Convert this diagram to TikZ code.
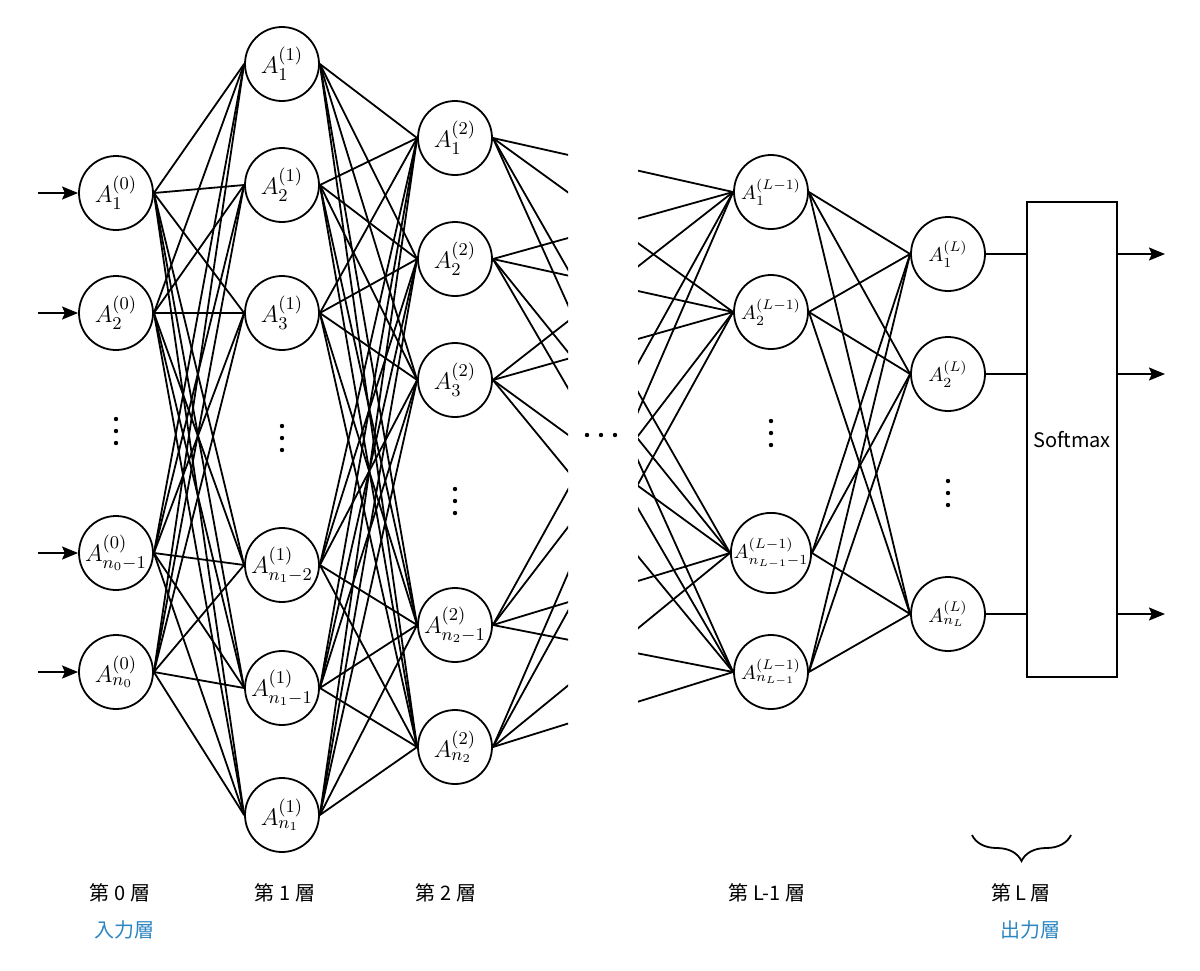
\documentclass[tikz,border=0pt]{standalone}
\usepackage{amsmath}
\usepackage{fontspec}
\newfontfamily\jpfont{Noto Sans CJK JP}
\usetikzlibrary{arrows.meta,decorations.pathreplacing}
\definecolor{layerblue}{RGB}{46,134,193}
\newcommand{\layervdots}[2]{\fill (#1,#2-12) circle (1.1pt) (#1,#2) circle (1.1pt) (#1,#2+12) circle (1.1pt);}

\begin{document}
\begin{tikzpicture}[x=0.5pt, y=-0.5pt, line width=0.9pt,
    neuron/.style={circle, draw, minimum size=37pt, inner sep=0pt, font=\fontsize{12.5}{14}\selectfont},
    smallneuron/.style={neuron, font=\fontsize{9.8}{11}\selectfont},
    layertext/.style={font=\jpfont\fontsize{10}{12}\selectfont},
    arrowtip/.style={-{Stealth[length=8pt, width=6.5pt, inset=1.4pt]}}]
   \useasboundingbox (0,0) rectangle (1200,970);

   % layer 0
   \node[neuron] (l0n1) at (116,193) {$A_1^{(0)}$};
   \node[neuron] (l0n2) at (116,313) {$A_2^{(0)}$};
   \node[neuron] (l0n3) at (116,553) {$A_{n_0-1}^{(0)}$};
   \node[neuron] (l0n4) at (116,672) {$A_{n_0}^{(0)}$};
   \layervdots{116}{431}

   % layer 1
   \node[neuron] (l1n1) at (282,64)  {$A_1^{(1)}$};
   \node[neuron] (l1n2) at (282,185) {$A_2^{(1)}$};
   \node[neuron] (l1n3) at (282,313) {$A_3^{(1)}$};
   \node[neuron] (l1n4) at (282,565) {$A_{n_1-2}^{(1)}$};
   \node[neuron] (l1n5) at (282,688) {$A_{n_1-1}^{(1)}$};
   \node[neuron] (l1n6) at (282,815) {$A_{n_1}^{(1)}$};
   \layervdots{282}{438}

   % layer 2
   \node[neuron] (l2n1) at (455,138) {$A_1^{(2)}$};
   \node[neuron] (l2n2) at (455,259) {$A_2^{(2)}$};
   \node[neuron] (l2n3) at (455,380) {$A_3^{(2)}$};
   \node[neuron] (l2n4) at (455,625) {$A_{n_2-1}^{(2)}$};
   \node[neuron] (l2n5) at (455,747) {$A_{n_2}^{(2)}$};
   \layervdots{455}{501}

   \fill (587,435) circle (1.1pt) (601,435) circle (1.1pt) (615,435) circle (1.1pt);

   % layer L-1
   \node[smallneuron] (lkn1) at (771,192) {$A_1^{(L-1)}$};
   \node[smallneuron] (lkn2) at (771,312) {$A_2^{(L-1)}$};
   \node[smallneuron] (lkn3) at (771,553) {$A_{n_{L-1}-1}^{(L-1)}$};
   \node[smallneuron] (lkn4) at (771,672) {$A_{n_{L-1}}^{(L-1)}$};
   \layervdots{771}{433}

   % layer L
   \node[smallneuron] (lLn1) at (948,254) {$A_1^{(L)}$};
   \node[smallneuron] (lLn2) at (948,374) {$A_2^{(L)}$};
   \node[smallneuron] (lLn3) at (948,614) {$A_{n_L}^{(L)}$};
   \layervdots{948}{493}

   \node[draw, minimum width=45pt, minimum height=237.5pt, inner sep=0pt,
         font=\jpfont\fontsize{10}{12}\selectfont] (sm) at (1072,439.5) {Softmax};

   \foreach \i/\y in {1/193, 2/313, 3/553, 4/672}
      \coordinate (in\i) at (38,\y);
   \foreach \i/\y in {1/254, 2/374, 3/614}
      \coordinate (out\i) at (1165,\y);

   \foreach \i in {1,...,4}
      \draw[arrowtip] (in\i) -- (l0n\i.west);

   \foreach \s in {1,...,4}
      \foreach \t in {1,...,6}
         \draw (l0n\s.east) -- (l1n\t.west);
   \foreach \s in {1,...,6}
      \foreach \t in {1,...,5}
         \draw (l1n\s.east) -- (l2n\t.west);

   \begin{scope}
      \clip (0,0) rectangle (568,970);
      \foreach \s in {1,...,5}
         \foreach \t in {1,...,4}
            \draw (l2n\s.east) -- (lkn\t.west);
   \end{scope}
   \begin{scope}
      \clip (638,0) rectangle (1200,970);
      \foreach \s in {1,...,5}
         \foreach \t in {1,...,4}
            \draw (l2n\s.east) -- (lkn\t.west);
   \end{scope}

   \foreach \s in {1,...,4}
      \foreach \t in {1,...,3}
         \draw (lkn\s.east) -- (lLn\t.west);

   \foreach \i in {1,...,3} {
      \draw (lLn\i.east) -- (lLn\i.east -| sm.west);
      \draw[arrowtip] (out\i -| sm.east) -- (out\i);
   }

   \draw[decorate, decoration={brace, mirror, amplitude=13pt}] (972,835) -- (1071,835);

   \node[layertext] (t0) at (120,893) {第 0 層};
   \node[layertext, text=layerblue] (t0b) at (124,930) {入力層};
   \node[layertext] (t1) at (285,893) {第 1 層};
   \node[layertext] (t2) at (446,893) {第 2 層};
   \node[layertext] (tk) at (767,893) {第 L-1 層};
   \node[layertext] (tL) at (1021,893) {第 L 層};
   \node[layertext, text=layerblue] (tLb) at (1030,930) {出力層};
\end{tikzpicture}
\end{document}
